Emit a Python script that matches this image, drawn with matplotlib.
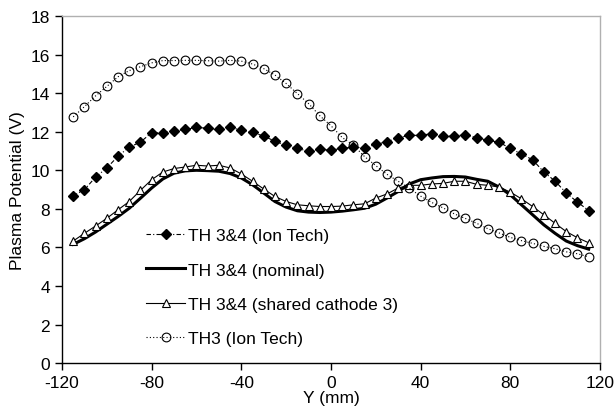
import numpy as np
import matplotlib
matplotlib.use("Agg")
import matplotlib.pyplot as plt

plt.rcParams['font.family'] = ['Liberation Sans', 'DejaVu Sans']
plt.rcParams['axes.unicode_minus'] = False

y_mm = list(range(-115, 120, 5))

ion_tech = [8.68, 8.99, 9.65, 10.12, 10.73, 11.2, 11.46, 11.95, 11.95, 12.03,
            12.12, 12.22, 12.18, 12.12, 12.24, 12.07, 11.97, 11.77, 11.51, 11.29,
            11.13, 10.99, 11.08, 11.04, 11.14, 11.2, 11.16, 11.34, 11.48, 11.69,
            11.81, 11.81, 11.9, 11.79, 11.79, 11.83, 11.69, 11.55, 11.46, 11.13,
            10.85, 10.54, 9.91, 9.44, 8.82, 8.35, 7.91]

nominal = [6.16, 6.45, 6.8, 7.2, 7.6, 8.03, 8.55, 9.08, 9.55, 9.85,
           9.97, 10.0, 9.98, 9.95, 9.83, 9.6, 9.25, 8.82, 8.38, 8.09,
           7.9, 7.83, 7.81, 7.83, 7.88, 7.95, 8.03, 8.24, 8.56, 8.9,
           9.29, 9.51, 9.6, 9.67, 9.68, 9.65, 9.53, 9.43, 9.13, 8.73,
           8.21, 7.69, 7.17, 6.73, 6.33, 6.09, 5.91]

shared = [6.33, 6.73, 7.11, 7.51, 7.95, 8.38, 8.96, 9.51, 9.91, 10.09,
          10.17, 10.26, 10.22, 10.26, 10.12, 9.81, 9.43, 9.03, 8.64, 8.38,
          8.21, 8.16, 8.12, 8.12, 8.14, 8.21, 8.26, 8.56, 8.77, 9.08,
          9.22, 9.22, 9.29, 9.32, 9.43, 9.43, 9.27, 9.22, 9.13, 8.87,
          8.52, 8.12, 7.69, 7.25, 6.82, 6.5, 6.24]

th3 = [12.77, 13.3, 13.86, 14.35, 14.85, 15.17, 15.37, 15.57, 15.69, 15.69,
       15.7, 15.7, 15.68, 15.66, 15.7, 15.66, 15.51, 15.27, 14.94, 14.5,
       13.98, 13.46, 12.83, 12.31, 11.70, 11.3, 10.71, 10.24, 9.79, 9.43,
       9.06, 8.66, 8.33, 8.05, 7.74, 7.50, 7.25, 6.97, 6.75, 6.52,
       6.35, 6.21, 6.05, 5.93, 5.77, 5.67, 5.51]

labels = ["TH 3&4 (Ion Tech)", "TH 3&4 (nominal)",
          "TH 3&4 (shared cathode 3)", "TH3 (Ion Tech)"]
x_ticks = [-120, -80, -40, 0, 40, 80, 120]
y_ticks = [0, 2, 4, 6, 8, 10, 12, 14, 16, 18]

fig = plt.figure(figsize=(6.14, 4.10), dpi=100)
ax = fig.add_axes([0.101, 0.112, 0.876, 0.8465])

ax.plot(y_mm, ion_tech, color='black', linestyle=(0, (4, 2, 1, 2)), linewidth=0.8,
        marker='D', markersize=5.5, markerfacecolor='black', markeredgecolor='black',
        label=labels[0])
ax.plot(y_mm, nominal, color='black', linestyle='-', linewidth=2.2, label=labels[1])
ax.plot(y_mm, shared, color='black', linestyle='-', linewidth=0.8,
        marker='^', markersize=6, markerfacecolor='white', markeredgecolor='black',
        markeredgewidth=0.8, label=labels[2])
ax.plot(y_mm, th3, color='black', linestyle=(0, (1, 2)), linewidth=0.8,
        marker='o', markersize=6.3, markerfacecolor='none', markeredgecolor='black',
        markeredgewidth=0.8, label=labels[3])

ax.set_xlim(-120, 120)
ax.set_ylim(0, 18)
ax.set_xticks(x_ticks)
ax.set_yticks(y_ticks)
ax.tick_params(direction='out', length=5, width=1, labelsize=12.5, colors='black')
for s in ['left', 'bottom']:
    ax.spines[s].set_color('black')
    ax.spines[s].set_linewidth(1)
for s in ['top', 'right']:
    ax.spines[s].set_color('#b0b0b0')
    ax.spines[s].set_linewidth(1)

ax.set_xlabel("Y (mm)", fontsize=12.5, labelpad=0)
ax.set_ylabel("Plasma Potential (V)", fontsize=12.5, labelpad=4)

leg = ax.legend(loc='lower left', bbox_to_anchor=(0.128, 0.004), frameon=False,
                fontsize=12.5, handlelength=2.2, handletextpad=0.2,
                labelspacing=1.1)

fig.savefig("out.png", dpi=100)
